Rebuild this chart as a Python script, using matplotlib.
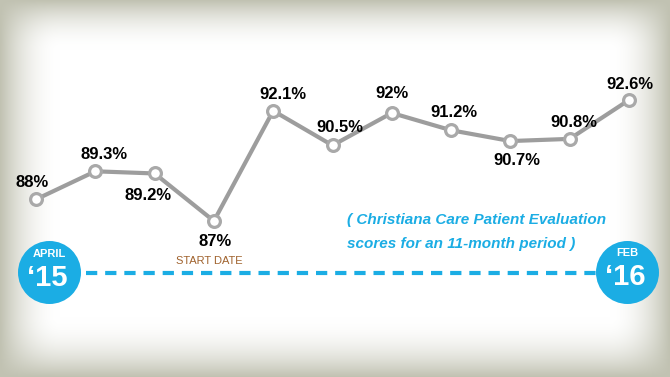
import numpy as np
import matplotlib.pyplot as plt

# scores per month, April '15 .. Feb '16
months = list(range(11))
scores = [88, 89.3, 89.2, 87, 92.1, 90.5, 92, 91.2, 90.7, 90.8, 92.6]
labels = ['88%', '89.3%', '89.2%', '87%', '92.1%', '90.5%', '92%', '91.2%', '90.7%', '90.8%', '92.6%']
# label offsets in points
offs = [(-3, 12), (6, 12), (-5, -16), (1, -15), (7, 12), (5, 13),
        (0, 14), (2, 13), (5, -14), (3, 12), (1, 11)]

FONT = ['Liberation Sans', 'DejaVu Sans']

BLUE = '#1badE4'
GRAY = '#9d9d9d'

fig = plt.figure(figsize=(6.7, 3.77), dpi=100)

# vignette background
H, W = 377, 670
yy, xx = np.mgrid[0:H, 0:W]
def fade(d, w):
    return np.clip(1 - d / w, 0, 1) ** 2
a = 1 - (1 - fade(xx, 60)) * (1 - fade(W - 1 - xx, 60)) * (1 - fade(yy, 50)) * (1 - fade(H - 1 - yy, 60))
edge = np.array([193, 194, 178]) / 255
img = 1 - a[..., None] * (1 - edge)
bg = fig.add_axes([0, 0, 1, 1])
bg.imshow(img, aspect='auto', extent=[0, 1, 0, 1], origin='upper')
bg.axis('off')

ax = fig.add_axes([0, 0, 1, 1])
ax.patch.set_alpha(0)
ax.axis('off')
# x: index 0 -> px 36, 10 -> px 629 ; y: 87 -> px 221, 92.6 -> px 100
xpp = 10 / 593
ax.set_xlim(-36 * xpp, 10 + (670 - 629) * xpp)
ypp = 5.6 / 121
ax.set_ylim(87 - (377 - 221) * ypp, 92.6 + 100 * ypp)

ax.plot(months, scores, color=GRAY, lw=3, zorder=2)
ax.plot(months, scores, 'o', ms=8.5, mfc='white', mec='#a9a9a9', mew=2.3, zorder=3)

for m, s, t, o in zip(months, scores, labels, offs):
    ax.annotate(t, (m, s), xytext=o, textcoords='offset points', ha='center', va='center',
                fontsize=12, fontweight='bold', color='black', family=FONT)
ax.annotate('START DATE', (3, 87), xytext=(-3, -29), textcoords='offset points',
            ha='center', va='center', fontsize=8, color='#a0622d', family=FONT)

# dashed period line and end badges
tr = ax.transAxes
ax.plot([86 / W, 598 / W], [1 - 273 / H, 1 - 273 / H], transform=tr, color=BLUE,
        lw=3, dashes=(2.7, 1.9), zorder=1)
for cx, ty, top, by, big in [(49, 254, 'APRIL', 278, '\u201815'),
                             (627, 253, 'FEB', 277, '\u201816')]:
    ax.scatter([cx / W], [1 - 272 / H], s=(63 * 0.72) ** 2, color=BLUE, transform=tr,
               zorder=4, linewidths=0)
    ax.text(cx / W, 1 - ty / H, top, transform=tr, ha='center', va='center', color='white',
            fontsize=8, fontweight='bold', family=FONT, zorder=5)
    ax.text(cx / W - 0.002, 1 - by / H, big, transform=tr, ha='center', va='center',
            color='white', fontsize=21, fontweight='bold', family=FONT, zorder=5)

ax.text(347 / W, 1 - 220 / H, '( Christiana Care Patient Evaluation', transform=tr,
        ha='left', va='center', color=BLUE, fontsize=11, fontweight='bold',
        style='italic', family=FONT)
ax.text(347 / W, 1 - 244 / H, 'scores for an 11-month period )', transform=tr,
        ha='left', va='center', color=BLUE, fontsize=11, fontweight='bold',
        style='italic', family=FONT)

fig.savefig('out.png', dpi=100)
